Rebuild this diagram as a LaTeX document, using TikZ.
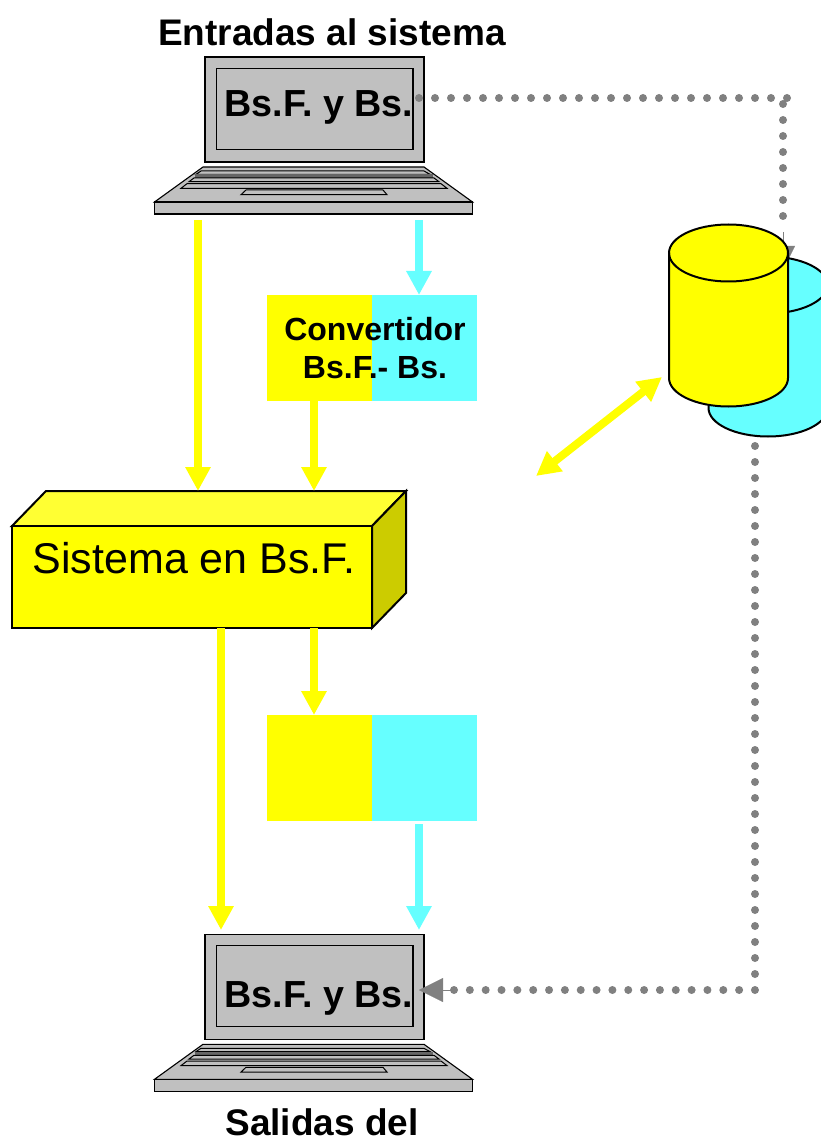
\documentclass[tikz,border=0pt]{standalone}
\usepackage{fontspec}
\setmainfont{Liberation Sans}
\usetikzlibrary{arrows.meta,positioning}

\definecolor{amarillo}{HTML}{FFFF00}
\definecolor{celeste}{HTML}{66FFFF}
\definecolor{gris}{HTML}{C0C0C0}
\definecolor{puntos}{HTML}{808080}

\tikzset{
	flecha/.style={line width=8pt,-{Triangle[width=24pt,length=24pt]}},
	flechados/.style={line width=8pt,{Triangle[width=24pt,length=24pt]}-{Triangle[width=24pt,length=24pt]}},
	punteado/.style={puntos,line width=8pt,line cap=round,dash pattern=on 0pt off 16pt},
	titulo/.style={inner sep=0pt,font=\bfseries\fontsize{37}{40}\selectfont},
	pantalla/.style={inner sep=0pt,font=\bfseries\fontsize{37.7}{40}\selectfont},
	cuadro/.style={inner sep=0pt,outer sep=0pt,minimum width=105pt,minimum height=106pt},
	laptop/.pic={
		\filldraw [fill=gris,line width=1.1pt] (0,0) rectangle (219,105);
		\filldraw [fill=gris,line width=1.1pt] (11.5,11.5) rectangle (208,92.5);
		\filldraw [fill=gris,line width=1.1pt] (-2,110) -- (219,110) -- (267.5,145) -- (-50.5,145) -- cycle;
		\filldraw [fill=gris,line width=1.1pt] (-50.5,145) rectangle (267.5,157);
		\filldraw [fill=gris,line width=1pt] (-4,114) -- (219,114) -- (225,117.3) -- (-9,117.3) -- cycle;
		\fill [black!60] (-10,117.5) rectangle (228,120.7);
		\filldraw [fill=gris,line width=1pt] (-11,121) -- (229,121) -- (234,124.7) -- (-16,124.7) -- cycle;
		\filldraw [fill=gris,line width=1pt] (-18,126.7) -- (236,126.7) -- (242,131.3) -- (-24,131.3) -- cycle;
		\filldraw [fill=gris,line width=1pt] (41,133) -- (178,133) -- (182,137.7) -- (36,137.7) -- cycle;
	}
}

\begin{document}
\begin{tikzpicture}[x=1pt,y=-1pt]
	\useasboundingbox (0,0) rectangle (820,1139);

	% puntos de conexion
	\coordinate (salidaA) at (198,220);
	\coordinate (salidaB) at (419,220);
	\coordinate (entradaA) at (198,491);
	\coordinate (entradaB) at (314,491);
	\coordinate (bajaA) at (221,628);
	\coordinate (bajaB) at (314,628);
	\coordinate (llegaA) at (221,930);
	\coordinate (llegaB) at (419,930);
	\coordinate (subeA) at (536,476);
	\coordinate (subeB) at (662,377);
	\coordinate (inicioA) at (419,98);
	\coordinate (esquinaA) at (787,98);
	\coordinate (esquinaB) at (783,104);
	\coordinate (baseA) at (783,232);
	\coordinate (puntaA) at (783,270);
	\coordinate (inicioB) at (755,446);
	\coordinate (esquinaC) at (755,990);
	\coordinate (inicioC) at (454,990);
	\coordinate (puntaB) at (419,990);

	% computadoras
	\pic (laptopA) at (205,57) {laptop};

	\pic (laptopB) at (205,934.3) {laptop};

	% lineas punteadas
	\draw [punteado] (inicioA) -- (esquinaA);

	\draw [punteado] (esquinaB) -- (baseA);

	\draw [puntos,line width=.1pt,-{Triangle[width=24pt,length=24pt]}] (baseA) -- (puntaA);

	\draw [punteado] (inicioB) -- (esquinaC);

	\draw [punteado,dash pattern=on 0pt off 15.84pt] (inicioC) -- (esquinaC);

	\draw [puntos,line width=.1pt,-{Triangle[width=24pt,length=24pt]}] (inicioC) -- (puntaB);

	% base de datos
	\filldraw [fill=celeste,line width=2pt] (708.5,285) -- (708.5,408) arc [start angle=180,end angle=360,x radius=59.5,y radius=-28.5] -- (827.5,285) arc [start angle=0,end angle=180,x radius=59.5,y radius=-28.5] -- cycle;

	\draw [line width=2pt] (708.5,285) arc [start angle=180,end angle=360,x radius=59.5,y radius=-28.5];

	\filldraw [fill=amarillo,line width=2pt] (669,253) -- (669,378) arc [start angle=180,end angle=360,x radius=59.5,y radius=-28.5] -- (788,253) arc [start angle=0,end angle=180,x radius=59.5,y radius=-28.5] -- cycle;

	\draw [line width=2pt] (669,253) arc [start angle=180,end angle=360,x radius=59.5,y radius=-28.5];

	\node [titulo] (entradas) at (332,32) {Entradas al sistema};

	\node [pantalla] (monedaA) at (319,107) {Bs.F. y Bs.};

	\node [pantalla] (monedaB) at (319,998) {Bs.F. y Bs.};

	\node [titulo,anchor=base] (salidas) at (322,1135.5) {Salidas del};

	% convertidores
	\node [cuadro,fill=amarillo] (convA) at (319.5,348) {};

	\node [cuadro,fill=celeste,right=0pt of convA] (convB) {};

	\node [cuadro,fill=amarillo] (vacioA) at (319.5,768) {};

	\node [cuadro,fill=celeste,right=0pt of vacioA] (vacioB) {};

	\node [inner sep=0pt,align=center,font=\bfseries\fontsize{32}{38}\selectfont] (conv) at (375,348) {Convertidor\\Bs.F.- Bs.};

	% sistema
	\filldraw [fill=amarillo!80!white,line width=2pt] (12,526) -- (46,491) -- (406,491) -- (372,526) -- cycle;

	\filldraw [fill=amarillo!80!black,line width=2pt] (372,526) -- (406,491) -- (406,593) -- (372,628) -- cycle;

	\filldraw [fill=amarillo,line width=2pt] (12,526) rectangle (372,628);

	\node [inner sep=0pt,font=\fontsize{43}{46}\selectfont] (sistema) at (194,558) {Sistema en Bs.F.};

	% flechas
	\draw [flecha,amarillo] (salidaA) -- (entradaA);

	\draw [flecha,celeste] (salidaB) -- (salidaB |- convB.north);

	\draw [flecha,amarillo] (convA.south -| entradaB) -- (entradaB);

	\draw [flecha,amarillo] (bajaA) -- (llegaA);

	\draw [flecha,amarillo] (bajaB) -- (bajaB |- vacioA.north);

	\draw [flecha,celeste] (salidaB |- vacioB.south) ++(0,3) -- (llegaB);

	\draw [flechados,amarillo] (subeA) -- (subeB);
\end{tikzpicture}
\end{document}
